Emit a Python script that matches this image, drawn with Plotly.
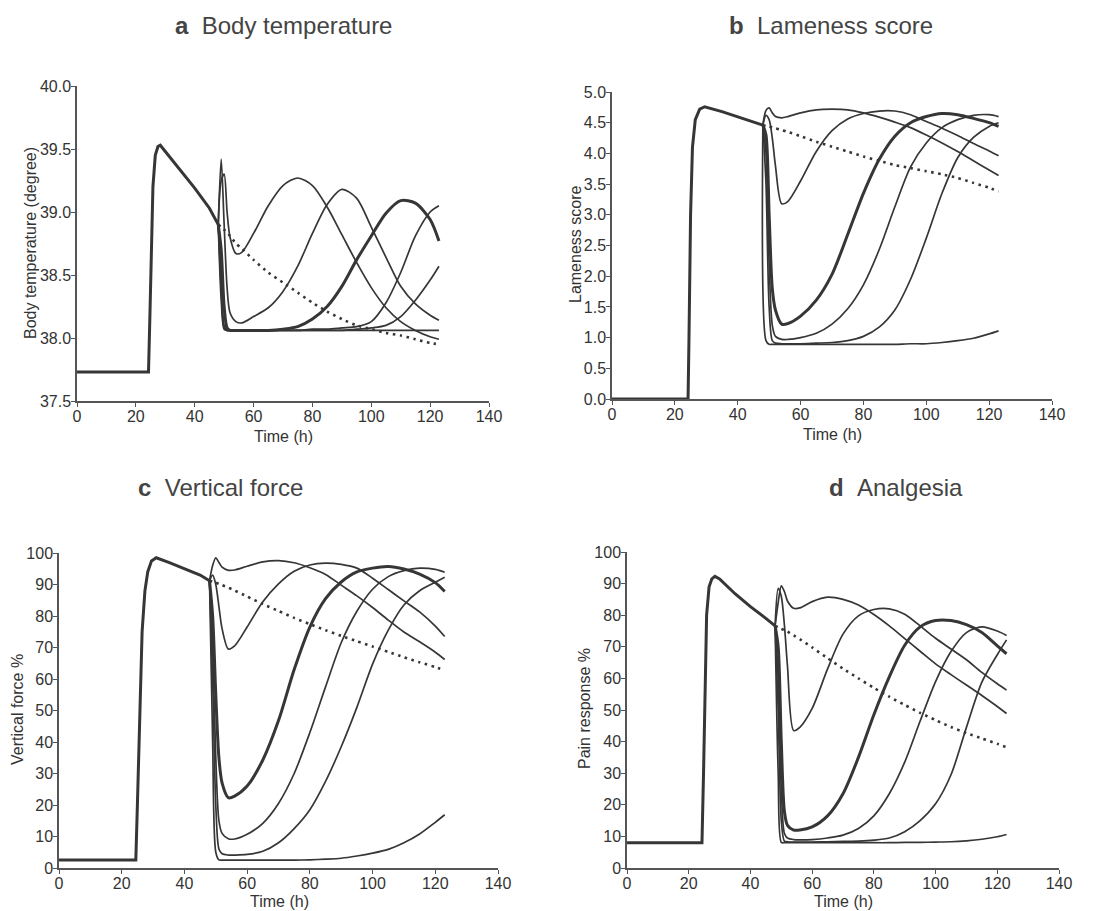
import plotly.graph_objects as go

# ---------------- data ----------------
T_POST = [48, 49, 50, 51, 52, 54, 56, 60, 65, 70, 75, 80, 85, 90, 95, 100, 105, 110, 115, 120, 123]

# a  Body temperature
A_T_PRE = [0, 24, 24.3, 24.8, 25.3, 25.8, 26.6, 27.5, 28.3, 30, 35, 40, 45, 48]
A_PRE = [37.73, 37.73, 37.73, 38.2, 38.8, 39.2, 39.45, 39.52, 39.53, 39.48, 39.33, 39.19, 39.03, 38.9]
A_UNTREATED = [38.9, 38.88, 38.86, 38.84, 38.81, 38.75, 38.71, 38.62, 38.52, 38.44, 38.36, 38.28, 38.21, 38.15, 38.10, 38.07, 38.04, 38.02, 37.99, 37.96, 37.95]
A_C1 = [38.9, 39.25, 39.3, 39.0, 38.8, 38.67, 38.68, 38.83, 39.05, 39.21, 39.27, 39.21, 39.04, 38.82, 38.6, 38.4, 38.24, 38.13, 38.06, 38.01, 37.99]
A_C2 = [38.9, 39.42, 38.9, 38.4, 38.2, 38.13, 38.12, 38.17, 38.24, 38.37, 38.57, 38.83, 39.06, 39.18, 39.11, 38.88, 38.64, 38.41, 38.27, 38.18, 38.14]
A_C3 = [38.9, 38.7, 38.25, 38.08, 38.06, 38.06, 38.06, 38.06, 38.06, 38.07, 38.09, 38.15, 38.25, 38.41, 38.62, 38.81, 38.99, 39.09, 39.07, 38.94, 38.77]
A_C4 = [38.9, 38.5, 38.1, 38.06, 38.06, 38.06, 38.06, 38.06, 38.06, 38.06, 38.06, 38.07, 38.07, 38.08, 38.09, 38.13, 38.28, 38.52, 38.81, 39.0, 39.05]
A_C5 = [38.9, 38.4, 38.08, 38.06, 38.06, 38.06, 38.06, 38.06, 38.06, 38.06, 38.06, 38.06, 38.06, 38.06, 38.07, 38.08, 38.1, 38.17, 38.3, 38.46, 38.57]
A_C6 = [38.9, 38.3, 38.07, 38.06, 38.06, 38.06, 38.06, 38.06, 38.06, 38.06, 38.06, 38.06, 38.06, 38.06, 38.06, 38.06, 38.06, 38.06, 38.06, 38.06, 38.06]

# b  Lameness score
B_T_PRE = [0, 24.2, 24.5, 25.0, 25.6, 26.5, 27.9, 29.5, 35, 40, 45, 48]
B_PRE = [0, 0, 1.0, 3.0, 4.1, 4.55, 4.72, 4.76, 4.68, 4.6, 4.52, 4.46]
B_UNTREATED = [4.46, 4.45, 4.44, 4.42, 4.41, 4.38, 4.35, 4.28, 4.19, 4.11, 4.03, 3.95, 3.88, 3.81, 3.76, 3.71, 3.66, 3.6, 3.52, 3.44, 3.38]
B_C1 = [4.46, 4.7, 4.74, 4.66, 4.6, 4.58, 4.6, 4.66, 4.71, 4.72, 4.71, 4.66, 4.59, 4.51, 4.42, 4.3, 4.17, 4.03, 3.88, 3.73, 3.64]
B_C2 = [4.46, 4.62, 4.55, 4.25, 3.8, 3.18, 3.22, 3.55, 4.03, 4.37, 4.56, 4.65, 4.69, 4.69, 4.63, 4.52, 4.41, 4.29, 4.16, 4.04, 3.96]
B_C3 = [4.46, 4.3, 3.0, 1.8, 1.45, 1.22, 1.23, 1.35, 1.61, 2.03, 2.68, 3.35, 3.9, 4.28, 4.5, 4.6, 4.65, 4.63, 4.57, 4.5, 4.44]
B_C4 = [4.46, 4.0, 2.2, 1.2, 1.02, 0.97, 0.97, 1.0, 1.07, 1.22, 1.47, 1.86, 2.43, 3.13, 3.78, 4.17, 4.42, 4.55, 4.62, 4.63, 4.6]
B_C5 = [4.46, 3.5, 1.5, 0.95, 0.91, 0.9, 0.9, 0.9, 0.91, 0.92, 0.95, 1.02, 1.17, 1.45, 1.95, 2.62, 3.35, 3.93, 4.26, 4.44, 4.5]
B_C6 = [4.46, 0.95, 0.89, 0.89, 0.89, 0.89, 0.89, 0.89, 0.89, 0.89, 0.89, 0.89, 0.89, 0.89, 0.9, 0.9, 0.92, 0.95, 0.99, 1.06, 1.11]

# c  Vertical force
C_T_PRE = [0, 24.5, 25, 25.7, 26.5, 27.4, 28.3, 29.5, 31, 35, 40, 45, 48]
C_PRE = [2.5, 2.5, 20, 50, 75, 88, 94, 97.5, 98.5, 97, 95, 93, 91.2]
C_UNTREATED = [91.2, 90.9, 90.6, 90.2, 89.8, 89, 88.1, 86.2, 83.8, 81.6, 79.4, 77.4, 75.5, 73.7, 72, 70.3, 68.6, 66.9, 65.3, 63.8, 62.8]
C_C1 = [91.2, 96, 98.5, 97, 95.5, 94.5, 94.6, 95.8, 97.2, 97.6, 96.9, 95.3, 93.2, 89.8, 86.4, 82.7, 78.7, 74.9, 71.8, 68.5, 66.2]
C_C2 = [91.2, 93, 90, 83, 76, 69.5, 70.5, 76.5, 84.5, 90.2, 94.2, 96.2, 96.8, 96.4, 95.2, 92, 88.4, 84.8, 81.3, 76.8, 73.5]
C_C3 = [91.2, 80, 55, 35, 27, 22.3, 22.8, 26, 34.3, 46.8, 63, 76.5, 85.5, 90.8, 94, 95.2, 95.7, 94.9, 93.3, 90.6, 87.8]
C_C4 = [91.2, 70, 35, 15, 11, 9.3, 9.2, 10.7, 14.2, 20.5, 30, 43, 57.5, 71.5, 81.5, 88.5, 92.5, 94.4, 95.2, 94.8, 93.9]
C_C5 = [91.2, 60, 20, 6, 4.5, 4.1, 4.1, 4.3, 5.3, 8, 12.5, 18.5, 27.5, 38.5, 51, 64.7, 75.5, 83.5, 88, 90.7, 92.3]
C_C6 = [91.2, 40, 5, 2.6, 2.5, 2.5, 2.5, 2.5, 2.5, 2.5, 2.5, 2.6, 2.8, 3.1, 3.8, 4.7, 5.9, 8, 10.8, 14.5, 16.9]

# d  Analgesia
D_T_PRE = [0, 24.3, 24.8, 25.3, 25.8, 26.6, 27.5, 28.5, 30, 35, 40, 45, 48]
D_PRE = [8, 8, 30, 60, 80, 89, 91.5, 92.3, 91.5, 86.8, 82.7, 79, 76.6]
D_UNTREATED = [76.6, 76.2, 75.7, 75.3, 74.8, 73.6, 72.4, 69.8, 66.4, 63.1, 60, 57, 54.2, 51.6, 49.1, 46.8, 44.6, 42.7, 41, 39.3, 38.2]
D_C1 = [76.6, 84, 89.3, 87.5, 84.5, 82.2, 82.3, 84.3, 85.7, 85, 83.2, 80.2, 76.6, 72.6, 68.6, 64.6, 61.2, 57.9, 54.6, 51.1, 48.9]
D_C2 = [76.6, 88.5, 86, 77, 64, 43.5, 44.5, 50.5, 63, 74, 79.8, 81.8, 82, 80.3, 76.6, 72.7, 69.3, 65.9, 61.9, 58.3, 56.3]
D_C3 = [76.6, 70, 40, 18, 13.5, 12, 12, 13, 16.5, 23.5, 35, 48.5, 60.5, 70.5, 76.3, 78.3, 78.3, 77, 74.5, 70.3, 67.8]
D_C4 = [76.6, 60, 25, 11, 9.5, 9, 8.9, 9, 9.5, 10.4, 12.5, 16.5, 23.5, 33.5, 46.5, 59, 68.5, 74.5, 76.3, 75, 73.6]
D_C5 = [76.6, 50, 15, 8.5, 8.3, 8.2, 8.2, 8.2, 8.3, 8.4, 8.5, 8.8, 9.5, 11.5, 15, 20.3, 29.5, 44.5, 58.8, 67.5, 72.2]
D_C6 = [76.6, 30, 8.1, 8.0, 8.0, 8.0, 8.0, 8.0, 8.0, 8.0, 8.0, 8.0, 8.0, 8.1, 8.1, 8.2, 8.3, 8.6, 9.1, 9.9, 10.6]

X_TICKS = [0, 20, 40, 60, 80, 100, 120, 140]

TITLES = ["Body temperature", "Lameness score", "Vertical force", "Analgesia"]
LETTERS = ["a", "b", "c", "d"]
Y_TITLES = ["Body temperature (degree)", "Lameness score", "Vertical force %", "Pain response %"]
X_TITLE = "Time (h)"

# ---------------- figure ----------------
W, H = 1100, 911
LINE = "#363636"
AXC = "#555555"
TXT = "#333333"
FONT = "Liberation Sans, Arial, sans-serif"


def fx(px):
    return px / W


def fy(py):
    return 1 - py / H


panels = [
    dict(pre_t=A_T_PRE, pre=A_PRE, dot=A_UNTREATED, curves=[A_C1, A_C2, A_C3, A_C4, A_C5, A_C6],
         xd=(77, 489), yd=(401, 86), yr=[37.5, 40.0], dt=0.5, fmt=".1f",
         title=(173, 25), ytitle=(30, 243), xtitle=(283, 436)),
    dict(pre_t=B_T_PRE, pre=B_PRE, dot=B_UNTREATED, curves=[B_C1, B_C2, B_C3, B_C4, B_C5, B_C6],
         xd=(612, 1052), yd=(399, 92), yr=[0, 5.0], dt=0.5, fmt=".1f",
         title=(727, 25), ytitle=(575, 245), xtitle=(832, 434)),
    dict(pre_t=C_T_PRE, pre=C_PRE, dot=C_UNTREATED, curves=[C_C1, C_C2, C_C3, C_C4, C_C5, C_C6],
         xd=(59, 498), yd=(868, 553), yr=[0, 100], dt=10, fmt="d",
         title=(136, 488), ytitle=(17, 710), xtitle=(279, 901)),
    dict(pre_t=D_T_PRE, pre=D_PRE, dot=D_UNTREATED, curves=[D_C1, D_C2, D_C3, D_C4, D_C5, D_C6],
         xd=(627, 1059), yd=(868, 552), yr=[0, 100], dt=10, fmt="d",
         title=(827, 488), ytitle=(584, 709), xtitle=(844, 901)),
]

fig = go.Figure()
annotations = []
layout_axes = {}

for i, p in enumerate(panels):
    n = "" if i == 0 else str(i + 1)
    xref, yref = "x" + n, "y" + n

    # treatment curves (third one drawn thicker)
    for k, ys in enumerate(p["curves"]):
        fig.add_trace(go.Scatter(
            x=T_POST, y=ys, mode="lines", xaxis=xref, yaxis=yref,
            line=dict(color=LINE, width=3.0 if k == 2 else 1.7, shape="spline", smoothing=0.8),
            showlegend=False, hoverinfo="skip"))
    # untreated (dotted)
    fig.add_trace(go.Scatter(
        x=T_POST, y=p["dot"], mode="lines", xaxis=xref, yaxis=yref,
        line=dict(color=LINE, width=2.6, dash="2.5px,4.5px", shape="spline", smoothing=0.6),
        showlegend=False, hoverinfo="skip"))
    # common phase before treatment
    fig.add_trace(go.Scatter(
        x=p["pre_t"], y=p["pre"], mode="lines", xaxis=xref, yaxis=yref,
        line=dict(color=LINE, width=3.0),
        showlegend=False, hoverinfo="skip"))

    axis_common = dict(showline=True, linecolor=AXC, linewidth=1.5, ticks="outside",
                       ticklen=4, tickwidth=1.3, tickcolor=AXC, showgrid=False, zeroline=False,
                       tickfont=dict(family=FONT, size=16, color=TXT), automargin=False)
    layout_axes["xaxis" + n] = dict(axis_common, domain=[fx(p["xd"][0]), fx(p["xd"][1])],
                                    range=[0, 140], tickvals=X_TICKS, anchor=yref,
                                    ticklabelstandoff=-4)
    layout_axes["yaxis" + n] = dict(axis_common, domain=[fy(p["yd"][0]), fy(p["yd"][1])],
                                    range=p["yr"], dtick=p["dt"], tick0=0, tickformat=p["fmt"],
                                    anchor=xref, ticklabelstandoff=-3)

    annotations.append(dict(
        text="<b>" + LETTERS[i] + "</b>\u00a0\u00a0" + TITLES[i], xref="paper", yref="paper",
        x=fx(p["title"][0]), y=fy(p["title"][1]), xanchor="left", yanchor="middle",
        showarrow=False, font=dict(family=FONT, size=24, color="#444444")))
    annotations.append(dict(
        text=Y_TITLES[i], xref="paper", yref="paper", textangle=-90,
        x=fx(p["ytitle"][0]), y=fy(p["ytitle"][1]), xanchor="center", yanchor="middle",
        showarrow=False, font=dict(family=FONT, size=16, color=TXT)))
    annotations.append(dict(
        text=X_TITLE, xref="paper", yref="paper",
        x=fx(p["xtitle"][0]), y=fy(p["xtitle"][1]), xanchor="center", yanchor="middle",
        showarrow=False, font=dict(family=FONT, size=16, color=TXT)))

fig.update_layout(
    width=W, height=H, margin=dict(l=0, r=0, t=0, b=0),
    paper_bgcolor="white", plot_bgcolor="white",
    annotations=annotations, showlegend=False, **layout_axes)

fig.write_html("out.html")
